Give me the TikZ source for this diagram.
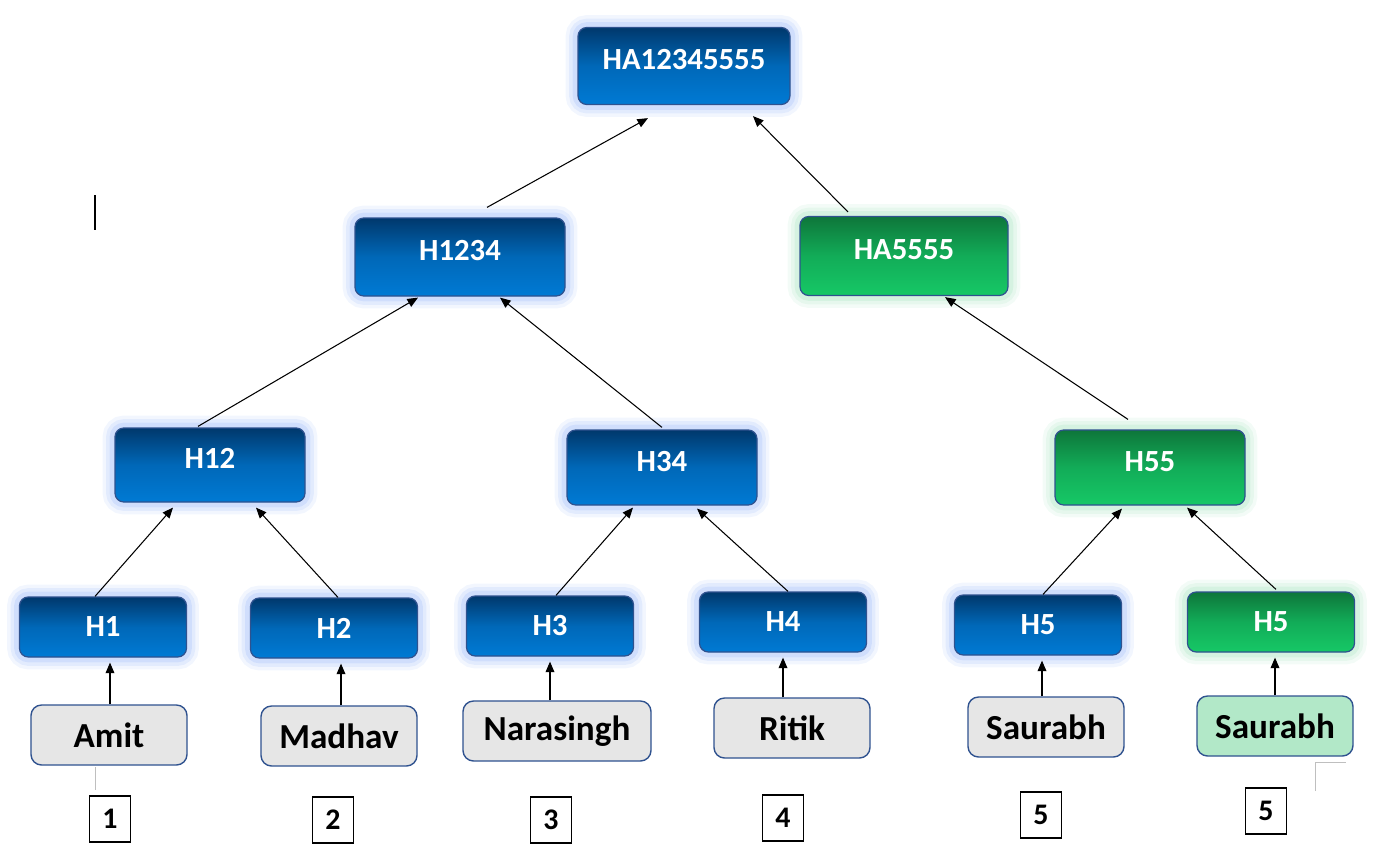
\documentclass[tikz,border=0pt]{standalone}
\usepackage{fontspec}
\setmainfont{Carlito}
\usetikzlibrary{calc}
\usetikzlibrary{arrows.meta}

\definecolor{bluetop}{RGB}{0,56,108}
\definecolor{bluemid}{RGB}{0,104,184}
\definecolor{bluebot}{RGB}{0,122,212}
\definecolor{greentop}{RGB}{14,118,58}
\definecolor{greenmid}{RGB}{18,172,88}
\definecolor{greenbot}{RGB}{22,200,102}
\definecolor{glowblue}{RGB}{165,192,250}
\definecolor{glowgreen}{RGB}{175,230,198}
\definecolor{boxline}{RGB}{47,82,143}
\definecolor{leafgray}{RGB}{230,230,230}
\definecolor{leafgreen}{RGB}{178,232,200}

\tikzset{
	hashbox/.style={rounded corners=5pt, draw=boxline, line width=0.7pt, inner sep=0pt,
		text=white, font=\fontsize{17.5}{20}\selectfont\bfseries},
	bluehash/.style={hashbox, top color=bluetop, bottom color=bluebot, middle color=bluemid,
		preaction={draw=glowblue, line width=14pt, opacity=0.15},
		preaction={draw=glowblue, line width=10pt, opacity=0.2},
		preaction={draw=glowblue, line width=6pt, opacity=0.3}},
	greenhash/.style={hashbox, top color=greentop, bottom color=greenbot, middle color=greenmid,
		preaction={draw=glowgreen, line width=14pt, opacity=0.15},
		preaction={draw=glowgreen, line width=10pt, opacity=0.2},
		preaction={draw=glowgreen, line width=6pt, opacity=0.3}},
	upper/.style={text depth=7pt},
	leafbox/.style={rounded corners=6pt, draw=boxline, line width=0.8pt, fill=leafgray,
		minimum width=3.12cm, minimum height=1.2cm, inner sep=0pt,
		font=\fontsize{20}{24}\selectfont\bfseries},
	numbox/.style={draw=black, line width=0.7pt, minimum width=0.82cm, minimum height=0.92cm,
		inner sep=0pt, font=\fontsize{17}{20}\selectfont\bfseries},
	arr/.style={-{Triangle[length=6pt,width=5pt]}, line width=0.6pt}
}

\begin{document}
\begin{tikzpicture}
	\useasboundingbox (0,0) rectangle (27.7,-17.14);

	\node[bluehash, upper, minimum width=4.24cm, minimum height=1.54cm]	(top)	at (13.68,-1.32)	{HA12345555};
	\node[bluehash, upper, minimum width=4.2cm, minimum height=1.56cm]	(h1234)	at (9.2,-5.14)	{H1234};
	\node[greenhash, upper, minimum width=4.16cm, minimum height=1.58cm]	(ha5555)	at (18.08,-5.12)	{HA5555};

	\node[bluehash, upper, minimum width=3.8cm, minimum height=1.48cm]	(h12)	at (4.2,-9.3)	{H12};
	\node[bluehash, upper, minimum width=3.8cm, minimum height=1.5cm]	(h34)	at (13.24,-9.35)	{H34};
	\node[greenhash, upper, minimum width=3.8cm, minimum height=1.5cm]	(h55)	at (23.0,-9.35)	{H55};

	\node[bluehash, minimum width=3.34cm, minimum height=1.2cm]	(h1)	at (2.06,-12.54)	{H1};
	\node[bluehash, minimum width=3.34cm, minimum height=1.2cm]	(h2)	at (6.68,-12.56)	{H2};
	\node[bluehash, minimum width=3.34cm, minimum height=1.2cm]	(h3)	at (11.0,-12.52)	{H3};
	\node[bluehash, minimum width=3.34cm, minimum height=1.2cm]	(h4)	at (15.66,-12.44)	{H4};
	\node[bluehash, minimum width=3.34cm, minimum height=1.2cm]	(h5)	at (20.76,-12.5)	{H5};
	\node[greenhash, minimum width=3.34cm, minimum height=1.2cm]	(h5g)	at (25.42,-12.44)	{H5};

	\node[leafbox]	(amit)	at (2.18,-14.7)	{Amit};
	\node[leafbox]	(madhav)	at (6.78,-14.72)	{Madhav};
	\node[leafbox, minimum width=3.76cm]	(narasingh)	at (11.14,-14.62)	{Narasingh};
	\node[leafbox]	(ritik)	at (15.84,-14.56)	{Ritik};
	\node[leafbox]	(saurabh)	at (20.92,-14.54)	{Saurabh};
	\node[leafbox, fill=leafgreen]	(saurabhg)	at (25.5,-14.52)	{Saurabh};

	\node[numbox]	(n1)	at (2.2,-16.38)	{1};
	\node[numbox]	(n2)	at (6.66,-16.4)	{2};
	\node[numbox]	(n3)	at (11.02,-16.4)	{3};
	\node[numbox]	(n4)	at (15.66,-16.36)	{4};
	\node[numbox]	(n5)	at (20.82,-16.3)	{5};
	\node[numbox]	(n6)	at (25.32,-16.22)	{5};

	\draw[arr] ([xshift=0.54cm, yshift=0.2cm]h1234.north) -- ([xshift=-0.72cm, yshift=-0.26cm]top.south);
	\draw[arr] ([xshift=-1.12cm, yshift=0.08cm]ha5555.north) -- ([xshift=1.38cm, yshift=-0.22cm]top.south);
	\draw[arr] ([xshift=-0.24cm, yshift=0.02cm]h12.north) -- ([xshift=-0.84cm, yshift=-0.02cm]h1234.south);
	\draw[arr] ([yshift=0.04cm]h34.north) -- ([xshift=0.8cm, yshift=-0.02cm]h1234.south);
	\draw[arr] ([xshift=-0.44cm, yshift=0.2cm]h55.north) -- ([xshift=0.82cm, yshift=-0.02cm]ha5555.south);
	\draw[arr] ([xshift=-0.16cm]h1.north) -- ([xshift=-0.74cm, yshift=-0.1cm]h12.south);
	\draw[arr] ([xshift=0.08cm]h2.north) -- ([xshift=0.92cm, yshift=-0.1cm]h12.south);
	\draw[arr] ([xshift=0.12cm]h3.north) -- ([xshift=-0.58cm, yshift=-0.04cm]h34.south);
	\draw[arr] ([xshift=0.1cm]h4.north) -- ([xshift=0.7cm, yshift=-0.06cm]h34.south);
	\draw[arr] ([xshift=0.1cm]h5.north) -- ([xshift=-0.56cm, yshift=-0.06cm]h55.south);
	\draw[arr] ([xshift=0.1cm, yshift=0.04cm]h5g.north) -- ([xshift=0.74cm, yshift=-0.04cm]h55.south);

	\foreach \leaf/\hn/\dx in {amit/h1/0.02, madhav/h2/0.04, narasingh/h3/-0.14, ritik/h4/-0.18, saurabh/h5/-0.08, saurabhg/h5g/0}
		\draw[arr] ([xshift=\dx cm]\leaf.north) -- ([xshift=\dx cm, yshift=-0.1cm]\leaf.north |- \hn.south);

	% stray marks
	\draw[black!25, line width=0.5pt] (1.9,-15.34) -- (1.9,-15.8);
	\draw[black!25, line width=0.5pt] (26.3,-15.82) -- (26.3,-15.24) -- (26.92,-15.24);
	\draw[black, line width=1.1pt] (1.9,-3.9) -- (1.9,-4.6);
\end{tikzpicture}
\end{document}
